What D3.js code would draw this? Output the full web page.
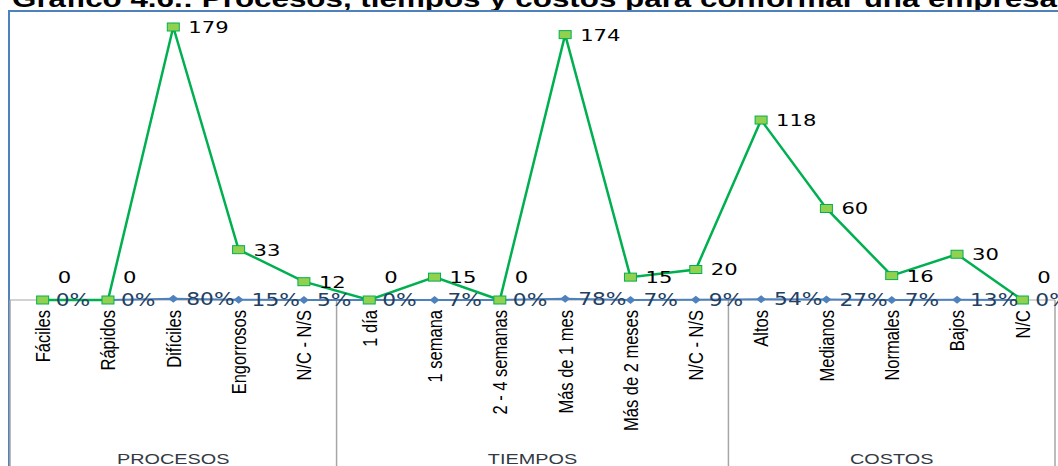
<!DOCTYPE html>
<html>
<head>
<meta charset="utf-8">
<script src="https://cdn.jsdelivr.net/npm/d3@7"></script>
<style>
  body { margin: 0; background: #fff; }
  svg { display: block; }
</style>
</head>
<body>
<div id="chart"></div>
<script>
// data
var groups = ["PROCESOS", "TIEMPOS", "COSTOS"];
var groupSizes = [5, 6, 5];
var categories = ["Fáciles", "Rápidos", "Difíciles", "Engorrosos", "N/C - N/S",
    "1 día", "1 semana", "2 - 4 semanas", "Más de 1 mes", "Más de 2 meses", "N/C - N/S",
    "Altos", "Medianos", "Normales", "Bajos", "N/C"];
var counts = [0, 0, 179, 33, 12, 0, 15, 0, 174, 15, 20, 118, 60, 16, 30, 0];
var percents = [0, 0, 80, 15, 5, 0, 7, 0, 78, 7, 9, 54, 27, 7, 13, 0];
var title = "Gráfico 4.6.: Procesos, tiempos y costos para conformar una empresa";

var W = 1058, H = 466;
var plot = { left: 10, right: 1055, top: 26, zero: 300 };
var stretch = 1.28; // the original picture is stretched sideways

var svg = d3.select("#chart").append("svg")
    .attr("width", W)
    .attr("height", H);

// title (cut at the top in the original)
svg.append("text")
    .attr("x", 12)
    .attr("y", 7)
    .attr("textLength", 1045)
    .attr("lengthAdjust", "spacingAndGlyphs")
    .style("font-family", "Liberation Sans, Arial, sans-serif")
    .style("font-weight", "bold")
    .style("font-size", "23px")
    .style("fill", "#000")
    .text(title);

// frame
svg.append("rect")
    .attr("x", 9)
    .attr("y", 11)
    .attr("width", 1100)
    .attr("height", 500)
    .style("fill", "none")
    .style("stroke", "#4F81BD")
    .style("stroke-width", 2);

var idx = categories.map((d, i) => i);

var x = d3.scaleBand()
    .domain(idx)
    .range([plot.left, plot.right]);

var cx = i => x(i) + x.bandwidth() / 2;

var y = d3.scaleLinear()
    .domain([0, 179])
    .range([plot.zero, 27]);

// category axis line
svg.append("line")
    .attr("x1", plot.left)
    .attr("x2", plot.right)
    .attr("y1", y(0))
    .attr("y2", y(0))
    .style("stroke", "#A6A6A6")
    .style("stroke-width", 1);

// group dividers
var bounds = [0];
groupSizes.forEach(function(n, i) { bounds.push(bounds[i] + n); });

svg.selectAll(".divider")
    .data(bounds)
    .enter()
    .append("line")
    .attr("class", "divider")
    .attr("x1", d => d < idx.length ? x(d) : plot.right)
    .attr("x2", d => d < idx.length ? x(d) : plot.right)
    .attr("y1", y(0))
    .attr("y2", H)
    .style("stroke", "#A6A6A6")
    .style("stroke-width", 1.5);

// group names
svg.selectAll(".group")
    .data(groups)
    .enter()
    .append("text")
    .attr("class", "group")
    .attr("transform", function(d, i) {
        var a = x(bounds[i]);
        var b = bounds[i + 1] < idx.length ? x(bounds[i + 1]) : plot.right;
        return "translate(" + ((a + b) / 2) + ",464) scale(" + stretch + ",1)";
    })
    .attr("text-anchor", "middle")
    .style("font-family", "Liberation Sans, Arial, sans-serif")
    .style("font-size", "15.5px")
    .style("fill", "#333a44")
    .text(d => d);

// category labels, rotated
svg.selectAll(".cat")
    .data(idx)
    .enter()
    .append("text")
    .attr("class", "cat")
    .attr("transform", d => "translate(" + cx(d) + ",310) scale(" + stretch + ",1) rotate(-90)")
    .attr("text-anchor", "end")
    .attr("dy", "0.35em")
    .style("font-family", "Liberation Sans, Arial, sans-serif")
    .style("font-size", "16.5px")
    .style("fill", "#000")
    .text(d => categories[d]);

// percent series (plotted as fractions, so it sits on the axis)
var pctLine = d3.line()
    .x(d => cx(d))
    .y(d => y(percents[d] / 100));

svg.append("path")
    .datum(idx)
    .attr("d", pctLine)
    .style("fill", "none")
    .style("stroke", "#4F81BD")
    .style("stroke-width", 2);

svg.selectAll(".diamond")
    .data(idx)
    .enter()
    .append("path")
    .attr("class", "diamond")
    .attr("d", "M0,-4L5,0L0,4L-5,0Z")
    .attr("transform", d => "translate(" + cx(d) + "," + y(percents[d] / 100) + ")")
    .style("fill", "#4F81BD");

// count series
var countLine = d3.line()
    .x(d => cx(d))
    .y(d => y(counts[d]));

svg.append("path")
    .datum(idx)
    .attr("d", countLine)
    .style("fill", "none")
    .style("stroke", "#00B050")
    .style("stroke-width", 2.5);

svg.selectAll(".marker")
    .data(idx)
    .enter()
    .append("rect")
    .attr("class", "marker")
    .attr("x", d => cx(d) - 6)
    .attr("y", d => y(counts[d]) - 4)
    .attr("width", 12)
    .attr("height", 8)
    .style("fill", "#92D050")
    .style("stroke", "#00B050")
    .style("stroke-width", 1);

// percent labels
svg.selectAll(".pct")
    .data(idx)
    .enter()
    .append("text")
    .attr("class", "pct")
    .attr("transform", d => "translate(" + (cx(d) + 13) + "," + y(percents[d] / 100) + ") scale(" + stretch + ",1)")
    .attr("dy", "0.36em")
    .style("font-family", "DejaVu Sans, Verdana, sans-serif")
    .style("font-size", "17px")
    .style("fill", "#243F60")
    .text(d => percents[d] + "%");

// count labels
svg.selectAll(".val")
    .data(idx)
    .enter()
    .append("text")
    .attr("class", "val")
    .attr("transform", function(d) {
        var ly = y(counts[d]) + (counts[d] === 0 ? -23 : 0);
        return "translate(" + (cx(d) + 15) + "," + ly + ") scale(" + stretch + ",1)";
    })
    .attr("dy", "0.36em")
    .style("font-family", "DejaVu Sans, Verdana, sans-serif")
    .style("font-size", "16.5px")
    .style("fill", "#000")
    .text(d => counts[d]);
</script>
</body>
</html>
